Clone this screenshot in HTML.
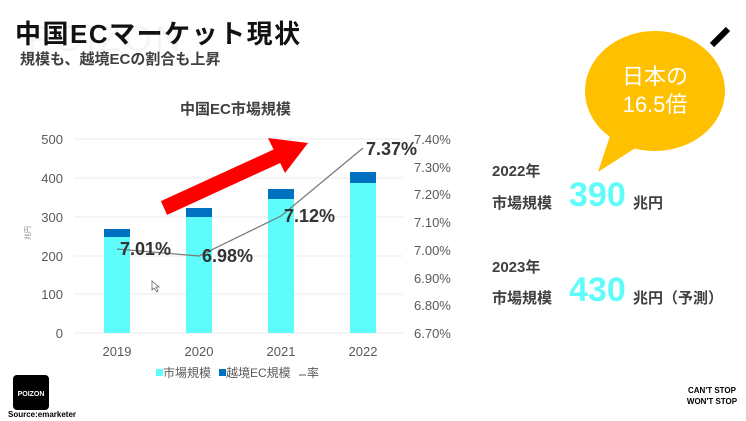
<!DOCTYPE html>
<html><head><meta charset="utf-8"><style>
body{margin:0;width:746px;height:421px;background:#fff;overflow:hidden;position:relative;font-family:"Liberation Sans","Noto Sans CJK JP",sans-serif}
.a{position:absolute;white-space:nowrap}
</style></head><body>
<div class="a" style="left:28px;top:18px;font-size:36px;color:#f5f5f5;letter-spacing:3px">POIZON</div>
<div class="a" style="left:15px;top:14px;font-size:26px;font-weight:bold;color:#111;letter-spacing:1.5px">中国ECマーケット現状</div>
<div class="a" style="left:20px;top:48px;font-size:15px;font-weight:bold;color:#404040">規模も、越境ECの割合も上昇</div>
<div class="a" style="left:180px;top:98px;font-size:15px;font-weight:bold;color:#404040">中国EC市場規模</div>
<svg class="a" style="left:0;top:0" width="746" height="421">
<g stroke="#ebebeb" stroke-width="1">
<line x1="74" x2="403" y1="139" y2="139"/><line x1="74" x2="403" y1="178" y2="178"/><line x1="74" x2="403" y1="217" y2="217"/><line x1="74" x2="403" y1="256" y2="256"/><line x1="74" x2="403" y1="294" y2="294"/><line x1="74" x2="403" y1="333" y2="333"/>
</g>
<g font-size="13" fill="#595959" text-anchor="end" font-family="Liberation Sans,sans-serif">
<text x="63" y="144">500</text><text x="63" y="183">400</text><text x="63" y="222">300</text><text x="63" y="261">200</text><text x="63" y="299">100</text><text x="63" y="338">0</text>
</g>
<g font-size="13" fill="#595959" font-family="Liberation Sans,sans-serif">
<text x="414" y="144">7.40%</text><text x="414" y="172">7.30%</text><text x="414" y="199">7.20%</text><text x="414" y="227">7.10%</text><text x="414" y="255">7.00%</text><text x="414" y="283">6.90%</text><text x="414" y="310">6.80%</text><text x="414" y="338">6.70%</text>
</g>
<text x="30" y="240" font-size="7" fill="#888" transform="rotate(-90 30 240)">兆円</text>
<g fill="#5ffcfc"><rect x="104" y="237" width="26" height="96"/><rect x="186" y="217" width="26" height="116"/><rect x="268" y="199" width="26" height="134"/><rect x="350" y="183" width="26" height="150"/></g>
<g fill="#0070c0"><rect x="104" y="229" width="26" height="8"/><rect x="186" y="208" width="26" height="9"/><rect x="268" y="189" width="26" height="10"/><rect x="350" y="172" width="26" height="11"/></g>
<polyline points="117,249 199,256 281,216 363,148" fill="none" stroke="#777" stroke-width="1.2"/>
<g font-size="18" font-weight="bold" fill="#333" font-family="Liberation Sans,sans-serif">
<text x="120" y="255">7.01%</text><text x="202" y="262">6.98%</text><text x="284" y="222">7.12%</text><text x="366" y="155">7.37%</text>
</g>
<line x1="164" y1="208" x2="284" y2="153" stroke="#f00" stroke-width="15"/>
<polygon points="268,138 308,143 285,173" fill="#f00"/>
<g font-size="13" fill="#595959" text-anchor="middle" font-family="Liberation Sans,sans-serif">
<text x="117" y="356">2019</text><text x="199" y="356">2020</text><text x="281" y="356">2021</text><text x="363" y="356">2022</text>
</g>
<rect x="156" y="369" width="7" height="7" fill="#5ffcfc"/>
<text x="163" y="377" font-size="12" fill="#595959">市場規模</text>
<rect x="219" y="369" width="7" height="7" fill="#0070c0"/>
<text x="226" y="377" font-size="12" fill="#595959">越境EC規模</text>
<line x1="299" y1="375" x2="306" y2="375" stroke="#595959"/>
<text x="307" y="377" font-size="12" fill="#595959">率</text>
<path d="M152,281 l0,9 l2,-2 l3,4 l1,-1 l-2,-4 l3,0 z" fill="#fff" stroke="#666" stroke-width="0.8"/>
<ellipse cx="655" cy="91" rx="70" ry="60" fill="#ffc000"/>
<polygon points="598,172 612,130 640,145" fill="#ffc000"/>
<line x1="712" y1="45" x2="728" y2="29" stroke="#000" stroke-width="6"/>
<rect x="13" y="375" width="36" height="35" rx="4" fill="#000"/>
<text x="31" y="396" font-size="7" fill="#fff" text-anchor="middle" font-weight="bold">POIZON</text>
<text x="8" y="417" font-size="8" font-weight="bold" fill="#000">Source:emarketer</text>
<text x="712" y="393" font-size="8" font-weight="bold" fill="#000" text-anchor="middle">CAN'T STOP</text>
<text x="712" y="404" font-size="8" font-weight="bold" fill="#000" text-anchor="middle">WON'T STOP</text>
</svg>
<div class="a" style="left:585px;top:63px;width:140px;text-align:center;font-size:22px;line-height:28px;color:#fff">日本の<br>16.5倍</div>
<div class="a" style="left:492px;top:160px;font-size:15px;font-weight:bold;color:#404040">2022年</div>
<div class="a" style="left:492px;top:192px;font-size:15px;font-weight:bold;color:#404040">市場規模</div>
<div class="a" style="left:569px;top:176px;font-size:34px;font-weight:bold;color:#5ffcfc">390</div>
<div class="a" style="left:633px;top:192px;font-size:15px;font-weight:bold;color:#404040">兆円</div>
<div class="a" style="left:492px;top:256px;font-size:15px;font-weight:bold;color:#404040">2023年</div>
<div class="a" style="left:492px;top:287px;font-size:15px;font-weight:bold;color:#404040">市場規模</div>
<div class="a" style="left:569px;top:271px;font-size:34px;font-weight:bold;color:#5ffcfc">430</div>
<div class="a" style="left:633px;top:287px;font-size:15px;font-weight:bold;color:#404040">兆円（予測）</div>
</body></html>
